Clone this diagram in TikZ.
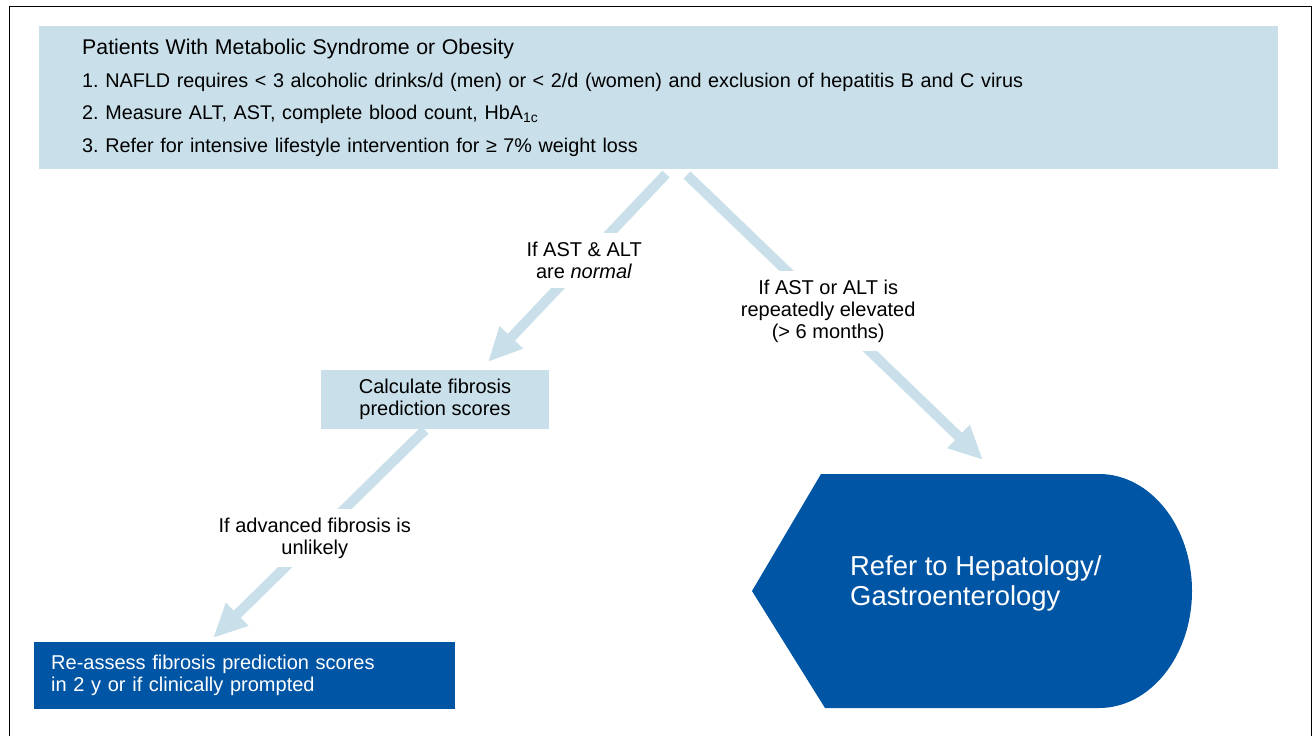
\documentclass[tikz,border=0pt]{standalone}
\usepackage{fontspec}
\setmainfont{Liberation Sans}
\usetikzlibrary{positioning,arrows.meta}
\definecolor{paleblue}{HTML}{C9DFE9}
\definecolor{deepblue}{HTML}{0055A5}
\frenchspacing
\begin{document}
\begin{tikzpicture}[x=1pt,y=-1pt,lbox/.style={fill=paleblue,inner sep=0pt,font=\fontsize{20}{22}\selectfont},dbox/.style={fill=deepblue,text=white,inner sep=0pt,font=\fontsize{20}{22}\selectfont},cond/.style={fill=white,align=center,inner xsep=4pt,inner ysep=9pt,font=\fontsize{20}{22}\selectfont},flow/.style={draw=paleblue,line width=10pt,-{Triangle[length=34pt,width=30pt]}}]
\useasboundingbox (0,0) rectangle (1315,736);
\draw[line width=1.5pt] (9.5,736) -- (9.5,6.5) -- (1311.5,6.5) -- (1311.5,736);
\node[lbox,anchor=north west,minimum width=1239pt,minimum height=143pt,text width=1153pt,inner xsep=43pt,align=left,font=\fontsize{19.8}{32.5}\selectfont] (top) at (39,26) {{\fontsize{21.3}{32.5}\selectfont Patients With Metabolic Syndrome or Obesity}\\1. NAFLD requires < 3 alcoholic drinks/d (men) or < 2/d (women) and exclusion of hepatitis B and C virus\\2. Measure ALT, AST, complete blood count, HbA\textsubscript{1c}\\3. Refer for intensive lifestyle intervention for ≥ 7\% weight loss};
\node[lbox,minimum width=228pt,minimum height=59pt,align=center] (calc) at (435,399.5) {Calculate fibrosis\\prediction scores};
\node[dbox,anchor=north west,minimum width=421pt,minimum height=67pt,text width=387pt,inner xsep=17pt,align=left] (reassess) at (34,642) {Re-assess fibrosis prediction scores\\in 2 y or if clinically prompted};
\fill[deepblue] (752,591) -- (821,474) -- (1099,474) arc[start angle=90,end angle=-90,x radius=93pt,y radius=117pt] -- (825,708) -- cycle;
\node[anchor=west,text=white,align=left,inner sep=0pt,font=\fontsize{27.4}{30}\selectfont] (refer) at (850,583) {Refer to Hepatology/\\Gastroenterology};
\coordinate (a1) at (666,174);\coordinate (t1) at (488,362);
\coordinate (a2) at (687,175);\coordinate (t2) at (983,460);
\coordinate (a3) at (425,430);\coordinate (t3) at (213,638);
\draw[flow] (a1) -- node[cond,pos=.46] (q1) {If AST \& ALT\\are \textit{normal}} (t1);
\draw[flow] (a2) -- node[cond,pos=.477] (q2) {If AST or ALT is\\repeatedly elevated\\(> 6 months)} (t2);
\draw[flow] (a3) -- node[cond,pos=.52] (q3) {If advanced fibrosis is\\unlikely} (t3);
\end{tikzpicture}
\end{document}
